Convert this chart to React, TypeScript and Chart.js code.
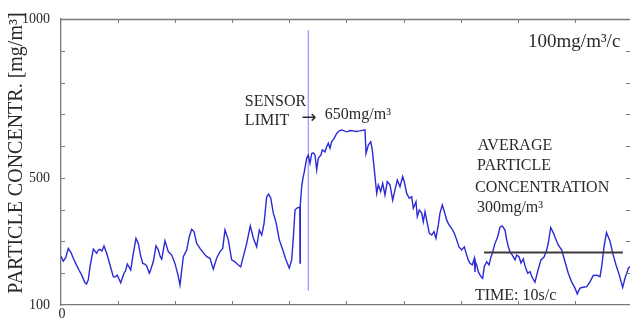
import { useEffect, useRef } from 'react';
import { Chart, registerables } from 'chart.js';

Chart.register(...registerables);

// Time axis (s, 10 s per division) and particle concentration (mg/m³)
const TIME_S = [
  0, 0.4, 0.82, 1.28, 1.75, 2.15, 2.57, 3.15, 3.63, 4.2, 4.47, 4.78, 5.08, 5.66, 6.25, 6.53, 6.83, 7.18, 7.53, 8.0,
  8.58, 9.16, 9.46, 9.86, 10.16, 10.46, 10.68, 11.03, 11.3, 11.61, 11.91, 12.21, 12.61, 13.13, 13.54, 13.92, 14.31, 14.66, 15.01, 15.46,
  15.59, 16.16, 16.64, 17.04, 17.34, 17.64, 18.21, 18.79, 19.39, 19.96, 20.49, 20.84, 21.42, 22.01, 22.47, 22.89, 23.29, 23.77, 24.34, 24.92,
  25.52, 26.09, 26.67, 27.27, 27.85, 28.32, 28.72, 29.3, 29.89, 30.47, 31.05, 31.47, 31.93, 32.52, 33.15, 33.68, 34.27, 34.73, 35.15, 35.55,
  36.02, 36.34, 36.73, 37.18, 37.65, 38.23, 38.79, 39.35, 39.98, 40.4, 40.72, 40.98, 41.38, 41.82, 41.86, 41.91, 42.15, 42.38, 42.61, 43.03,
  43.31, 43.61, 43.91, 44.19, 44.48, 44.78, 45.06, 45.53, 45.76, 46.23, 46.53, 46.81, 47.11, 47.41, 47.86, 48.28, 48.74, 49.16, 50.04, 50.61,
  51.19, 51.66, 52.36, 53.24, 53.42, 53.82, 54.24, 54.52, 54.99, 55.29, 55.57, 55.99, 56.34, 56.74, 57.14, 57.62, 58.09, 58.49, 58.9, 59.37,
  59.84, 60.12, 60.54, 61.0, 61.42, 61.7, 62.17, 62.4, 62.75, 63.17, 63.45, 63.75, 64.15, 64.5, 64.92, 65.32, 65.67, 66.08, 66.37, 66.78,
  67.13, 67.55, 67.95, 68.42, 68.88, 69.3, 69.7, 70.17, 70.63, 71.05, 71.33, 71.63, 72.03, 72.38, 72.5, 72.59, 72.8, 73.08, 73.56, 73.85,
  74.13, 74.55, 74.96, 75.31, 75.53, 76.01, 76.48, 76.88, 77.28, 77.76, 78.06, 78.34, 78.63, 79.04, 79.51, 79.81, 80.21, 80.56, 80.96, 81.26,
  81.73, 82.14, 82.49, 83.01, 83.54, 84.06, 84.59, 85.06, 85.34, 85.76, 86.22, 86.69, 87.09, 87.69, 88.27, 88.84, 89.44, 90.02, 90.42, 90.89,
  91.47, 92.07, 92.64, 93.22, 93.82, 94.4, 94.69, 95.1, 95.53, 96.15, 96.62, 97.2, 97.78, 98.37, 98.77, 99.35, 99.65,
];
const CONC = [
  253, 238, 249, 278, 265, 247, 231, 210, 194, 170, 166, 179, 221, 276, 263, 273, 275, 270, 286, 263,
  226, 189, 188, 194, 182, 170, 182, 200, 207, 229, 220, 210, 257, 310, 294, 257, 231, 229, 223, 200,
  205, 236, 286, 273, 254, 244, 302, 268, 257, 231, 194, 163, 252, 273, 315, 338, 331, 294, 278, 265,
  252, 247, 213, 248, 268, 278, 336, 305, 242, 236, 226, 220, 252, 294, 349, 311, 283, 336, 320, 355,
  440, 449, 437, 389, 361, 305, 276, 245, 216, 242, 320, 399, 406, 408, 232, 415, 472, 500, 519, 562,
  572, 546, 577, 579, 572, 525, 562, 572, 588, 582, 598, 609, 593, 614, 625, 640, 648, 651, 645, 649,
  648, 646, 648, 651, 577, 603, 614, 588, 504, 451, 478, 457, 483, 446, 488, 478, 430, 462, 493, 472,
  504, 488, 451, 436, 441, 404, 425, 378, 399, 389, 362, 394, 357, 326, 320, 331, 310, 352, 389, 415,
  394, 367, 352, 341, 326, 305, 283, 273, 283, 257, 242, 231, 226, 247, 204, 235, 226, 205, 189, 184,
  221, 236, 226, 252, 263, 294, 315, 345, 349, 336, 305, 283, 268, 257, 242, 257, 252, 232, 245, 223,
  200, 205, 188, 172, 210, 242, 251, 273, 295, 344, 327, 305, 289, 273, 236, 200, 172, 153, 135, 153,
  156, 158, 173, 193, 194, 189, 221, 283, 328, 301, 263, 226, 194, 155, 184, 215, 221,
];

// Reference marks
const SENSOR_LINE_T = [43.3, 43.3];
const SENSOR_LINE_V = [145, 965];
const AVG_LINE_T = [74.1, 98.4];
const AVG_LINE_V = [265, 265];

// Axis ticks
const X_MIN = 0;
const X_MAX = 99.65;
const X_STEP = 10;
const X_LABELED = [0];
const Y_MIN = 100;
const Y_MAX = 1000;
const Y_STEP = 100;
const Y_LABELED = [100, 500, 1000];
const Y_TITLE = 'PARTICLE CONCENTR. [mg/m³]';

// Annotation texts, anchored in data space (left edge, baseline)
const NOTE_TEXT = ['100mg/m³/c', 'SENSOR', 'LIMIT', '→', '650mg/m³', 'AVERAGE', 'PARTICLE', 'CONCENTRATION', '300mg/m³', 'TIME: 10s/c'];
const NOTE_T = [81.8, 32.2, 32.2, 42.1, 46.2, 73.0, 72.85, 72.5, 72.85, 72.5];
const NOTE_V = [912, 726, 666, 672, 685, 588, 525, 456, 393, 116];
const NOTE_SIZE = [19, 16, 16, 18, 16, 16, 16, 16, 16, 16];

const SERIF = '"Liberation Serif", "Times New Roman", "DejaVu Serif", serif';
const ARROW_FONT = '"DejaVu Sans", sans-serif';
const AXIS_GRAY = '#7a7a7a';
const TEXT_COLOR = '#2a2a2a';

const framePlugin = {
  id: 'frameAndNotes',
  afterDatasetsDraw(chart: any) {
    const { ctx, chartArea, scales } = chart;
    const xs = scales.x;
    const ys = scales.y;
    ctx.save();
    // top border
    ctx.strokeStyle = AXIS_GRAY;
    ctx.lineWidth = 1.3;
    ctx.beginPath();
    ctx.moveTo(chartArea.left, Math.round(chartArea.top) + 0.5);
    ctx.lineTo(chartArea.right, Math.round(chartArea.top) + 0.5);
    ctx.stroke();
    // inward tick marks
    ctx.lineWidth = 1;
    ctx.beginPath();
    for (let v = X_MIN + X_STEP; v < X_MAX; v += X_STEP) {
      const px = Math.round(xs.getPixelForValue(v)) + 0.5;
      ctx.moveTo(px, chartArea.top);
      ctx.lineTo(px, chartArea.top + 4);
      ctx.moveTo(px, chartArea.bottom);
      ctx.lineTo(px, chartArea.bottom - 4);
    }
    for (let v = Y_MIN + Y_STEP; v < Y_MAX; v += Y_STEP) {
      const py = Math.round(ys.getPixelForValue(v)) + 0.5;
      ctx.moveTo(chartArea.left, py);
      ctx.lineTo(chartArea.left + 4, py);
      ctx.moveTo(chartArea.right, py);
      ctx.lineTo(chartArea.right - 4, py);
    }
    ctx.stroke();
    // x tick labels (only the origin is labelled)
    ctx.fillStyle = TEXT_COLOR;
    ctx.font = `14px ${SERIF}`;
    ctx.textAlign = 'center';
    ctx.textBaseline = 'alphabetic';
    X_LABELED.forEach((v) => {
      ctx.fillText(String(v), xs.getPixelForValue(v) + 1, chartArea.bottom + 13);
    });
    // annotations
    ctx.textAlign = 'left';
    NOTE_TEXT.forEach((t, i) => {
      ctx.font = `${NOTE_SIZE[i]}px ${t === '→' ? ARROW_FONT : SERIF}`;
      ctx.fillText(t, xs.getPixelForValue(NOTE_T[i]), ys.getPixelForValue(NOTE_V[i]));
    });
    // y axis title
    ctx.font = `20px ${SERIF}`;
    ctx.textAlign = 'center';
    ctx.textBaseline = 'middle';
    ctx.translate(17, (chartArea.top + chartArea.bottom) / 2 - 9);
    ctx.rotate(-Math.PI / 2);
    ctx.fillText(Y_TITLE, 0, 0);
    ctx.restore();
  },
};

export default function App() {
  const ref = useRef<HTMLCanvasElement | null>(null);

  useEffect(() => {
    if (!ref.current) return;
    const series = TIME_S.map((t, i) => ({ x: t, y: CONC[i] }));
    const sensor = SENSOR_LINE_T.map((t, i) => ({ x: t, y: SENSOR_LINE_V[i] }));
    const avg = AVG_LINE_T.map((t, i) => ({ x: t, y: AVG_LINE_V[i] }));
    const chart = new Chart(ref.current, {
      type: 'line',
      data: {
        datasets: [
          { data: avg, borderColor: '#3a3a3a', borderWidth: 2, pointRadius: 0, order: 0 },
          { data: series, borderColor: '#2a2ad6', borderWidth: 1.4, pointRadius: 0, tension: 0, order: 1 },
          { data: sensor, borderColor: '#7d7dff', borderWidth: 1, pointRadius: 0, order: 2 },
        ],
      },
      options: {
        animation: false,
        responsive: true,
        maintainAspectRatio: false,
        layout: { padding: { top: 19, right: 0, left: 0, bottom: 0 } },
        plugins: { legend: { display: false }, tooltip: { enabled: false } },
        scales: {
          x: {
            type: 'linear',
            position: 'bottom',
            min: X_MIN,
            max: X_MAX,
            grid: { display: false },
            border: { display: true, color: AXIS_GRAY, width: 1.3 },
            ticks: { display: false, stepSize: X_STEP },
            afterFit: (s: any) => { s.height = 15; },
          },
          y: {
            type: 'linear',
            position: 'left',
            min: Y_MIN,
            max: Y_MAX,
            grid: { display: false },
            border: { display: true, color: AXIS_GRAY, width: 1.3 },
            ticks: {
              stepSize: Y_STEP,
              autoSkip: false,
              padding: 3,
              color: TEXT_COLOR,
              font: { family: SERIF, size: 14 },
              callback: (v: any) => (Y_LABELED.includes(Number(v)) ? String(v) : ''),
            },
            afterFit: (s: any) => { s.width = 61; },
          },
        },
      },
      plugins: [framePlugin],
    });
    return () => chart.destroy();
  }, []);

  return (
    <div style={{ position: 'absolute', left: 0, top: 0, width: 630, height: 320, background: '#fff' }}>
      <canvas ref={ref} />
    </div>
  );
}
